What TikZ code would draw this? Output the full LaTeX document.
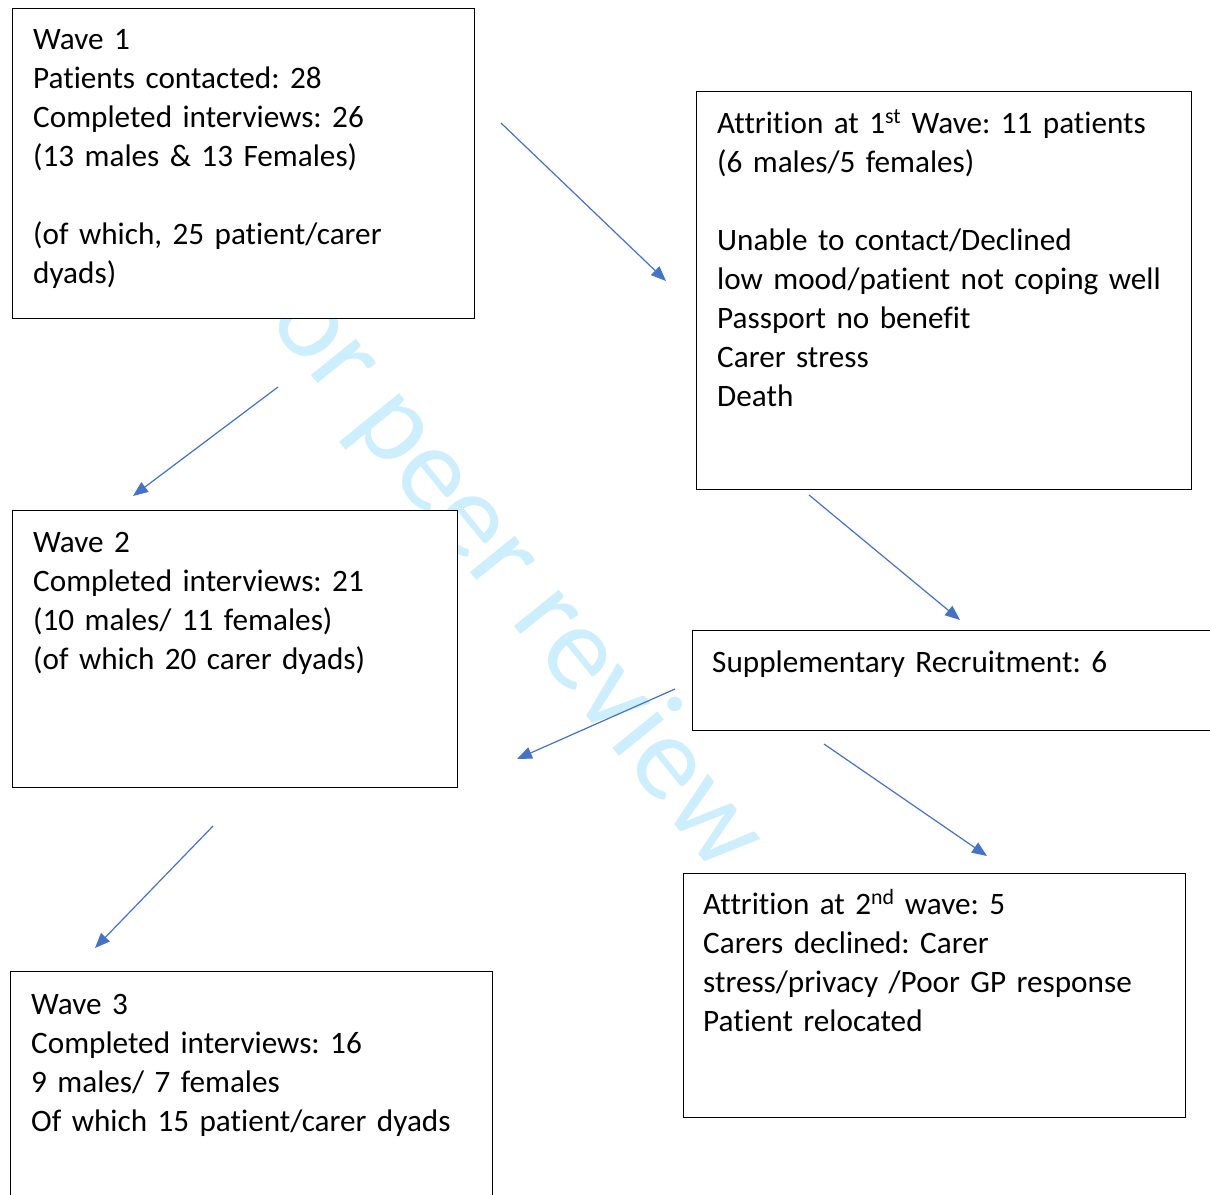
\documentclass[tikz,border=0pt]{standalone}
\usepackage{fontspec}
\setmainfont{Carlito}[Ligatures=NoCommon]
\frenchspacing
\usetikzlibrary{arrows.meta, positioning}
\definecolor{arrowblue}{RGB}{68,114,196}
\definecolor{wmblue}{RGB}{205,238,252}

\begin{document}
\begin{tikzpicture}[
            x=1pt, y=-1pt,
            % boxes drawn empty, text placed inside
            box/.style={
                draw, rectangle,
                fill=white,
                line width=1pt,
                anchor=north west,
                inner sep=0pt
            },
            txt/.style={
                anchor=base west,
                align=left,
                text width=480pt,
                inner sep=0pt,
                font=\fontsize{31.2}{39}\selectfont
            },
            watermark/.style={
                anchor=base west,
                inner sep=0pt,
                text=wmblue,
                font=\fontsize{121}{125}\selectfont
            },
            arrow/.style={-{Triangle[length=15pt, width=12pt]}, draw=arrowblue, line width=1.2pt}
        ]
        \useasboundingbox (0,0) rectangle (1210,1194);

        % Watermark
        \node[watermark, rotate=-51] (wm) at (232,278) {For peer review only};

        % Wave 1
        \node[box, minimum width=462pt, minimum height=310pt] (w1) at (12,8) {};
        \node[txt] (w1text) at (33,49) {Wave 1\\Patients contacted: 28\\Completed interviews: 26\\(13 males \& 13 Females)\\[39pt](of which, 25 patient/carer\\dyads)};

        % Attrition 1
        \node[box, minimum width=495pt, minimum height=398pt] (att1) at (696,91) {};
        \node[txt] (att1text) at (717,133) {Attrition at 1\textsuperscript{st} Wave: 11 patients\\(6 males/5 females)\\[39pt]Unable to contact/Declined\\low mood/patient not coping well\\Passport no benefit\\Carer stress\\Death};

        % Wave 2
        \node[box, minimum width=445pt, minimum height=277pt] (w2) at (12,510) {};
        \node[txt] (w2text) at (33,552) {Wave 2\\Completed interviews: 21\\(10 males/ 11 females)\\(of which 20 carer dyads)};

        % Supplementary recruitment
        \node[box, minimum width=530pt, minimum height=100pt] (supp) at (692,630) {};
        \node[txt] (supptext) at (712,672) {Supplementary Recruitment: 6};

        % Attrition 2
        \node[box, minimum width=502pt, minimum height=244pt] (att2) at (683,873) {};
        \node[txt] (att2text) at (703,914) {Attrition at 2\textsuperscript{nd} wave: 5\\Carers declined: Carer\\stress/privacy /Poor GP response\\Patient relocated};

        % Wave 3
        \node[box, minimum width=482pt, minimum height=240pt] (w3) at (10,971) {};
        \node[txt] (w3text) at (31,1014) {Wave 3\\Completed interviews: 16\\9 males/ 7 females\\Of which 15 patient/carer dyads};

        % Arrow ends
        \coordinate (w1toatt1) at (501,123);
        \coordinate (att1from) at (666,281);
        \coordinate (w1tow2) at (278,387);
        \coordinate (w2from) at (133,496);
        \coordinate (att1tosupp) at (809,495);
        \coordinate (suppfrom) at (960,620);
        \coordinate (supptow2) at (675,689);
        \coordinate (w2fromsupp) at (517,759);
        \coordinate (supptoatt2) at (824,744);
        \coordinate (att2from) at (987,856);
        \coordinate (w2tow3) at (213,826);
        \coordinate (w3from) at (95,948);

        % Arrows
        \draw[arrow] (w1toatt1) -- (att1from);
        \draw[arrow] (w1tow2) -- (w2from);
        \draw[arrow] (att1tosupp) -- (suppfrom);
        \draw[arrow] (supptow2) -- (w2fromsupp);
        \draw[arrow] (supptoatt2) -- (att2from);
        \draw[arrow] (w2tow3) -- (w3from);

\end{tikzpicture}
\end{document}
